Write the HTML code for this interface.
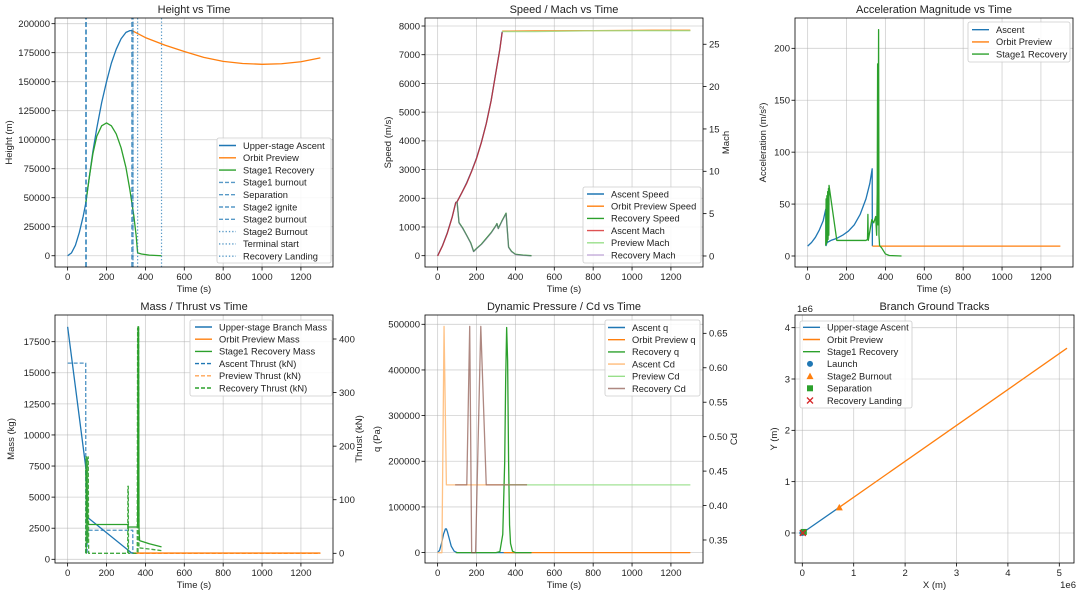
<!DOCTYPE html>
<html><head><meta charset="utf-8">
<style>
html,body{margin:0;padding:0;background:#fff;}
svg{display:block;font-family:"Liberation Sans","DejaVu Sans",sans-serif;}
</style></head>
<body>
<svg id="fig" width="1080" height="596" viewBox="0 0 1080 596" xmlns="http://www.w3.org/2000/svg"></svg>
<script>
// ---- Panel 1: height ----
const ascentT=[0,20,40,60,80,93,110,130,150,175,200,225,250,275,300,320,332];
const ascentH=[0,2500,9000,20000,34000,45000,66000,90000,110000,132000,150000,166000,178000,187000,192500,194000,194000];
const previewT=[332,400,500,600,700,800,900,1000,1100,1200,1300];
const previewH=[194000,188000,181500,176000,171000,167500,165700,165000,165500,167200,170500];
const recovT=[93,110,130,150,175,200,225,250,275,300,320,340,352,360,380,420,483];
const recovH=[45000,66000,88000,103000,112000,114500,112000,105000,93000,76000,57000,35000,18000,2500,1500,500,0];
const eventT=[93,96,330,336];
const dotEventT=[336,360,483];
// ---- Panel 2: speed / mach ----
const spdAscT=[0,25,50,75,93,100,125,150,175,200,225,250,275,300,320,332];
const spdAsc=[0,350,800,1350,1850,1880,2200,2550,2950,3400,3950,4600,5400,6400,7200,7800];
const spdPrevT=[332,500,800,1100,1300];
const spdPrev=[7820,7830,7840,7850,7850];
const spdRecT=[93,100,110,130,150,170,185,200,225,250,275,300,305,312,330,352,365,380,400,440,483];
const spdRec=[1850,1880,1150,950,700,450,150,250,400,600,800,1050,1120,950,1200,1480,300,150,50,20,0];
const machAsc=[0,1.2,2.7,4.6,6.3,6.4,7.5,8.6,10,11.5,13.4,15.6,18.3,21.7,24.4,26.4];
const machPrev=[26.5,26.5,26.6,26.6,26.6];
const machRec=[6.3,6.4,3.9,3.2,2.4,1.5,0.5,0.85,1.35,2.0,2.7,3.55,3.8,3.2,4.05,5.0,1.0,0.5,0.17,0.07,0];
// ---- Panel 3: acceleration ----
const accAscT=[0,20,40,60,80,93,95,100,120,150,180,210,240,270,300,320,332,333];
const accAsc=[9.5,13,18,25,34,45,10,13,15,17,20,24,30,40,55,70,84,9.5];
const accPrevT=[333,1300];
const accPrev=[9.5,9.5];
const accRecT=[93,95,97,99,101,103,105,107,109,110,150,200,250,300,308,310,312,330,340,350,355,358,360,362,364,365,367,370,380,400,420,483];
const accRec=[10,55,12,58,14,62,16,65,20,68,15,15,15,15,16,40,15,35,32,38,20,60,185,30,150,218,20,10,8,2,0.5,0];
// ---- Panel 4: mass / thrust ----
const massAscT=[0,95,100,330,340];
const massAsc=[18700,7200,3400,500,500];
const massPrevT=[340,1300];
const massPrev=[500,500];
const massRecT=[93,100,110,310,312,360,362,365,367,370,420,483];
const massRec=[7200,3000,2800,2800,2600,2600,18700,18700,2600,1500,1250,1000];
const thrAscT=[0,93,93.5,100,100.5,335,335.5];
const thrAsc=[355,355,0,0,43,43,0];
const thrPrevT=[340,1300];
const thrPrev=[0,0];
const thrRecT=[93,95,96,98,100,102,104,106,108,110,309,310,312,313,358,360,362,365,367,370,420,483];
const thrRec=[0,180,0,180,20,180,20,180,0,0,0,125,125,0,0,420,0,420,10,10,8,5];
// ---- Panel 5: q / Cd ----
const qAscT=[0,10,20,30,40,45,50,60,70,85,100,200,300,483];
const qAsc=[0,5000,20000,40000,52000,52000,46000,30000,14000,3000,0,0,0,0];
const qPrevT=[340,1300];
const qPrev=[0,0];
const qRecT=[93,300,320,335,345,350,355,360,365,370,375,385,400,483];
const qRec=[0,0,2000,40000,200000,380000,493000,420000,200000,60000,20000,3000,0,0];
const cdAscT=[0,22,33,45,100,200,300,460];
const cdAsc=[0.3316,0.3316,0.66,0.43,0.43,0.43,0.43,0.43];
const cdPrevT=[330,600,900,1300];
const cdPrev=[0.43,0.43,0.43,0.43];
const cdRecT=[90,150,165,175,195,222,250,460];
const cdRec=[0.43,0.43,0.66,0.3316,0.3316,0.66,0.43,0.43];
// ---- Panel 6: ground tracks (1e6 m) ----
const trkAscX=[0,0.72];const trkAscY=[0,0.5];
const trkPrevX=[0.72,5.15];const trkPrevY=[0.5,3.6];
const trkRecX=[0,0.02,0.035];const trkRecY=[0,0.01,0.02];
const evX=[0,0.72,0.03,0.01];const evY=[0,0.5,0.02,0.0];
const timeTicks=[0,200,400,600,800,1000,1200];

const NS='http://www.w3.org/2000/svg';
const fig=document.getElementById('fig');
const C={blue:'#1f77b4',orange:'#ff7f0e',green:'#2ca02c',red:'#d62728',purple:'#9467bd',brown:'#8c564b'};
function mk(tag,attrs,parent){const e=document.createElementNS(NS,tag);for(const k in attrs)e.setAttribute(k,attrs[k]);(parent||fig).appendChild(e);return e;}
function scale(d0,d1,p0,p1){return v=>p0+(v-d0)/(d1-d0)*(p1-p0);}

function panel(name,L,R,T,B,xd,yd,xticks,yticks,xfmt,yfmt,title,xlabel,ylabel,ylx){
  const g=mk('g',{});
  
  
  const sx=scale(xd[0],xd[1],L,R), sy=scale(yd[0],yd[1],B,T);
  xticks.forEach(v=>{const x=sx(v);
    const gl=mk('line',{x1:x,x2:x,y1:T,y2:B,stroke:'#b0b0b0','stroke-width':0.8,'stroke-opacity':0.6},g);
    
    
    mk('line',{x1:x,x2:x,y1:B,y2:B+3.5,stroke:'#000','stroke-width':0.8},g);
    const t=mk('text',{x:x,y:B+13,'font-size':9.5,'text-anchor':'middle',fill:'#222'},g);t.textContent=xfmt(v);
    
    });
  yticks.forEach(v=>{const y=sy(v);
    const gl=mk('line',{x1:L,x2:R,y1:y,y2:y,stroke:'#b0b0b0','stroke-width':0.8,'stroke-opacity':0.6},g);
    
    
    mk('line',{x1:L-3.5,x2:L,y1:y,y2:y,stroke:'#000','stroke-width':0.8},g);
    const t=mk('text',{x:L-5,y:y+3.4,'font-size':9.5,'text-anchor':'end',fill:'#222'},g);t.textContent=yfmt(v);
    
    });
  const tt=mk('text',{x:(L+R)/2,y:T-5,'font-size':11,'text-anchor':'middle',fill:'#222'},g);tt.textContent=title;
  
  
  const xl=mk('text',{x:(L+R)/2,y:B+25,'font-size':9.5,'text-anchor':'middle',fill:'#222'},g);xl.textContent=xlabel;
  
  
  const yl=mk('text',{x:ylx,y:(T+B)/2,'font-size':9.5,'text-anchor':'middle',fill:'#222',transform:`rotate(-90 ${ylx} ${(T+B)/2})`},g);yl.textContent=ylabel;
  
  
  const clip=mk('clipPath',{id:'c'+name},g);mk('rect',{x:L,y:T,width:R-L,height:B-T},clip);
  const data=mk('g',{'clip-path':`url(#c${name})`},g);
  return {g,data,sx,sy,L,R,T,B};
}
function frame(p){const f=mk('rect',{x:p.L,y:p.T,width:p.R-p.L,height:p.B-p.T,fill:'none',stroke:'#000','stroke-width':0.8},p.g);
  
  }
function rightAxis(p,yd,ticks,fmt,label,lx){
  const sy=scale(yd[0],yd[1],p.B,p.T);
  ticks.forEach(v=>{const y=sy(v);mk('line',{x1:p.R,x2:p.R+3.5,y1:y,y2:y,stroke:'#000','stroke-width':0.8},p.g);
    const t=mk('text',{x:p.R+6,y:y+3.4,'font-size':9.5,fill:'#222'},p.g);t.textContent=fmt(v);
    
    });
  const yl=mk('text',{x:lx,y:(p.T+p.B)/2,'font-size':9.5,'text-anchor':'middle',fill:'#222',transform:`rotate(-90 ${lx} ${(p.T+p.B)/2})`},p.g);yl.textContent=label;
  
  
  return sy;
}
function line(p,xs,ys,sy,color,name,opts){opts=opts||{};
  const d=xs.map((x,i)=>(i?'L':'M')+p.sx(x).toFixed(2)+','+sy(ys[i]).toFixed(2)).join(' ');
  const e=mk('path',{d:d,fill:'none',stroke:color,'stroke-width':opts.w||1.3,'stroke-opacity':opts.o||1,'stroke-dasharray':opts.dash||'none','stroke-linejoin':'round'},p.data);
  
  
}
function legend(x,y,w,h,entries,tx,ly,sp){
  const g=mk('g',{});
  
  
  mk('rect',{x:x,y:y,width:w,height:h,rx:2,fill:'#fff','fill-opacity':0.85,stroke:'#ccc','stroke-width':0.8},g);
  entries.forEach((en,i)=>{const yy=ly+i*sp;
    if(en.m){drawMarker(g,tx-17,yy,en.m,en.c);}
    else mk('line',{x1:tx-24,x2:tx-7,y1:yy,y2:yy,stroke:en.c,'stroke-width':1.4,'stroke-opacity':en.o||1,'stroke-dasharray':en.dash||'none'},g);
    const t=mk('text',{x:tx,y:yy+3.3,'font-size':9.3,fill:'#222'},g);t.textContent=en.t;
    
    });
}
function drawMarker(g,x,y,m,c){
  if(m==='o')mk('circle',{cx:x,cy:y,r:3,fill:c},g);
  else if(m==='^')mk('polygon',{points:`${x},${y-3.5} ${x-3.5},${y+3} ${x+3.5},${y+3}`,fill:c},g);
  else if(m==='s')mk('rect',{x:x-3,y:y-3,width:6,height:6,fill:c},g);
  else {mk('line',{x1:x-3,y1:y-3,x2:x+3,y2:y+3,stroke:c,'stroke-width':1.3},g);mk('line',{x1:x-3,y1:y+3,x2:x+3,y2:y-3,stroke:c,'stroke-width':1.3},g);}
}
const tf=v=>String(v);
const TX=[-65,1365];

// Panel 1
let p=panel('height-panel',55,333,18,267,TX,[-9700,204900],timeTicks,[0,25000,50000,75000,100000,125000,150000,175000,200000],tf,tf,'Height vs Time','Time (s)','Height (m)',12);
line(p,ascentT,ascentH,p.sy,C.blue,'ascent-height-line');
line(p,previewT,previewH,p.sy,C.orange,'preview-height-line');
line(p,recovT,recovH,p.sy,C.green,'recovery-height-line');
eventT.forEach(t=>line(p,[t,t],[-9700,204900],p.sy,C.blue,'event-line',{dash:'5,2.5',w:1.2,o:0.75}));
dotEventT.forEach(t=>line(p,[t,t],[-9700,204900],p.sy,C.blue,'event-line-dotted',{dash:'1.3,2',w:1.2,o:0.75}));
frame(p);
legend(217,138,114,125,[{t:'Upper-stage Ascent',c:C.blue},{t:'Orbit Preview',c:C.orange},{t:'Stage1 Recovery',c:C.green},
 {t:'Stage1 burnout',c:C.blue,dash:'4,2',o:.75},{t:'Separation',c:C.blue,dash:'4,2',o:.75},{t:'Stage2 ignite',c:C.blue,dash:'4,2',o:.75},{t:'Stage2 burnout',c:C.blue,dash:'4,2',o:.75},
 {t:'Stage2 Burnout',c:C.blue,dash:'1.3,2',o:.75},{t:'Terminal start',c:C.blue,dash:'1.3,2',o:.75},{t:'Recovery Landing',c:C.blue,dash:'1.3,2',o:.75}],243,145.5,12.3);

// Panel 2
p=panel('speed-panel',425,703,18,267,TX,[-394,8279],timeTicks,[0,1000,2000,3000,4000,5000,6000,7000,8000],tf,tf,'Speed / Mach vs Time','Time (s)','Speed (m/s)',391);
let sy2=rightAxis(p,[-1.3,28.1],[0,5,10,15,20,25],tf,'Mach',729);
line(p,spdAscT,spdAsc,p.sy,C.blue,'ascent-speed-line');
line(p,spdPrevT,spdPrev,p.sy,C.orange,'preview-speed-line');
line(p,spdRecT,spdRec,p.sy,C.green,'recovery-speed-line');
line(p,spdAscT,machAsc,sy2,C.red,'ascent-mach-line',{o:.8});
line(p,spdPrevT,machPrev,sy2,'#98df8a','preview-mach-line',{o:.8});
line(p,spdRecT,machRec,sy2,C.purple,'recovery-mach-line',{o:.45});
frame(p);
legend(583,187,118,76,[{t:'Ascent Speed',c:C.blue},{t:'Orbit Preview Speed',c:C.orange},{t:'Recovery Speed',c:C.green},{t:'Ascent Mach',c:C.red,o:.8},{t:'Preview Mach',c:'#98df8a'},{t:'Recovery Mach',c:C.purple,o:.5}],611,194,12.2);

// Panel 3
p=panel('acceleration-panel',795,1073,18,267,TX,[-10.6,229.2],timeTicks,[0,50,100,150,200],tf,tf,'Acceleration Magnitude vs Time','Time (s)','Acceleration (m/s²)',766);
line(p,accAscT,accAsc,p.sy,C.blue,'ascent-accel-line');
line(p,accPrevT,accPrev,p.sy,C.orange,'preview-accel-line');
line(p,accRecT,accRec,p.sy,C.green,'recovery-accel-line');
frame(p);
legend(968,22,102,40,[{t:'Ascent',c:C.blue},{t:'Orbit Preview',c:C.orange},{t:'Stage1 Recovery',c:C.green}],996,29.7,12.2);

// Panel 4
p=panel('mass-thrust-panel',55,333,315,563,TX,[-298,19647],timeTicks,[0,2500,5000,7500,10000,12500,15000,17500],tf,tf,'Mass / Thrust vs Time','Time (s)','Mass (kg)',14);
let sy4=rightAxis(p,[-18.1,444.8],[0,100,200,300,400],tf,'Thrust (kN)',362);
line(p,massAscT,massAsc,p.sy,C.blue,'ascent-mass-line');
line(p,massPrevT,massPrev,p.sy,C.orange,'preview-mass-line');
line(p,massRecT,massRec,p.sy,C.green,'recovery-mass-line');
line(p,thrAscT,thrAsc,sy4,C.blue,'ascent-thrust-line',{dash:'4,2',o:.8});
line(p,thrPrevT,thrPrev,sy4,C.orange,'preview-thrust-line',{dash:'4,2',o:.8});
line(p,thrRecT,thrRec,sy4,C.green,'recovery-thrust-line',{dash:'4,2',o:.9});
frame(p);
legend(190,320,142,76,[{t:'Upper-stage Branch Mass',c:C.blue},{t:'Orbit Preview Mass',c:C.orange},{t:'Stage1 Recovery Mass',c:C.green},{t:'Ascent Thrust (kN)',c:C.blue,dash:'4,2'},{t:'Preview Thrust (kN)',c:C.orange,dash:'4,2',o:.7},{t:'Recovery Thrust (kN)',c:C.green,dash:'4,2'}],219,327,12.2);

// Panel 5
p=panel('pressure-cd-panel',425,703,315,563,TX,[-22800,520360],timeTicks,[0,100000,200000,300000,400000,500000],tf,tf,'Dynamic Pressure / Cd vs Time','Time (s)','q (Pa)',380);
let sy5=rightAxis(p,[0.3166,0.6766],[0.35,0.40,0.45,0.50,0.55,0.60,0.65],v=>v.toFixed(2),'Cd',737);
line(p,qAscT,qAsc,p.sy,C.blue,'ascent-q-line');
line(p,qPrevT,qPrev,p.sy,C.orange,'preview-q-line');
line(p,qRecT,qRec,p.sy,C.green,'recovery-q-line');
line(p,cdAscT,cdAsc,sy5,'#ffbb78','ascent-cd-line',{o:.9});
line(p,cdPrevT,cdPrev,sy5,'#98df8a','preview-cd-line',{o:.9});
line(p,cdRecT,cdRec,sy5,C.brown,'recovery-cd-line',{o:.7});
frame(p);
legend(605,320,95,76,[{t:'Ascent q',c:C.blue},{t:'Orbit Preview q',c:C.orange},{t:'Recovery q',c:C.green},{t:'Ascent Cd',c:'#ffbb78'},{t:'Preview Cd',c:'#98df8a'},{t:'Recovery Cd',c:C.brown,o:.7}],632,327.5,12.2);

// Panel 6
p=panel('ground-track-panel',795,1074,315,563,[-0.142,5.286],[-0.585,4.247],[0,1,2,3,4,5],[0,1,2,3,4],tf,tf,'Branch Ground Tracks','X (m)','Y (m)',777);
line(p,trkAscX,trkAscY,p.sy,C.blue,'ascent-track-line');
line(p,trkPrevX,trkPrevY,p.sy,C.orange,'preview-track-line');
line(p,trkRecX,trkRecY,p.sy,C.green,'recovery-track-line');
const mks=['o','^','s','x'],mcs=[C.blue,C.orange,C.green,C.red],mnames=['launch-marker','stage2-burnout-marker','separation-marker','recovery-landing-marker'];
evX.forEach((x,i)=>{const g=mk('g',{},p.data);
  
  
  drawMarker(g,p.sx(x),p.sy(evY[i]),mks[i],mcs[i]);});
frame(p);
let o1=mk('text',{x:797,y:312,'font-size':9.5,fill:'#222'});o1.textContent='1e6';


let o2=mk('text',{x:1076,y:588,'font-size':9.5,'text-anchor':'end',fill:'#222'});o2.textContent='1e6';


legend(800,321,112,87,[{t:'Upper-stage Ascent',c:C.blue},{t:'Orbit Preview',c:C.orange},{t:'Stage1 Recovery',c:C.green},{t:'Launch',c:C.blue,m:'o'},{t:'Stage2 Burnout',c:C.orange,m:'^'},{t:'Separation',c:C.green,m:'s'},{t:'Recovery Landing',c:C.red,m:'x'}],827,327.3,12.2);
</script>
</body></html>
